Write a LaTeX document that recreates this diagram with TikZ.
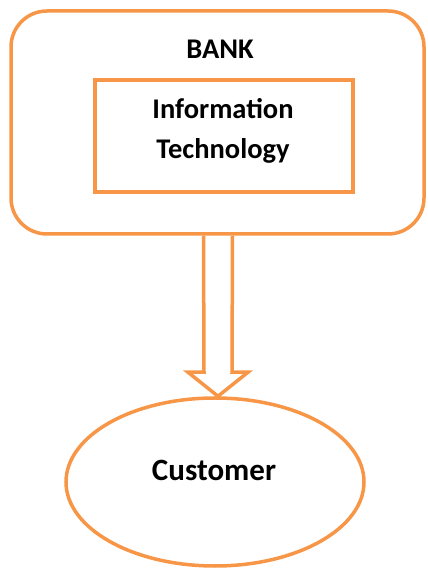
\documentclass[tikz,border=0pt]{standalone}
\usepackage{fontspec}
\setmainfont{Carlito}[BoldFont={Carlito Bold}]
\usetikzlibrary{calc,shapes.geometric}
\definecolor{acc}{HTML}{F79646}
\begin{document}
\begin{tikzpicture}[x=1pt,y=1pt,
  box/.style={draw=acc,line width=3.5pt},
  lbl/.style={font=\bfseries\fontsize{28.5}{40}\selectfont,text=black}]
\useasboundingbox (0,0) rectangle (428,570);
\node[box,rounded corners=36pt,minimum width=413pt,minimum height=223pt,inner sep=0pt] (bank) at (217.5,447.5) {};
\node[lbl] (banklbl) at (220,521) {BANK};
\node[box,minimum width=258pt,minimum height=112pt,inner sep=0pt,align=center] (it) at (224,434) {};
\node[lbl,align=center] (itlbl) at (223,439) {Information\\Technology};
\node[box,ellipse,minimum width=298pt,minimum height=168pt,inner sep=0pt] (cust) at (215,88) {};
\node[lbl,font=\bfseries\fontsize{31}{40}\selectfont] (custlbl) at (214,100) {Customer};
\draw[draw=acc,line width=3.5pt,line join=miter]
  ($(bank.south)+(-14,0)$) -- ($(cust.north)+(-11,24)$) -- ($(cust.north)+(-27,24)$)
  -- ($(cust.north)+(3,0)$) -- ($(cust.north)+(33,24)$) -- ($(cust.north)+(17,24)$)
  -- ($(bank.south)+(15,0)$);
\end{tikzpicture}
\end{document}
